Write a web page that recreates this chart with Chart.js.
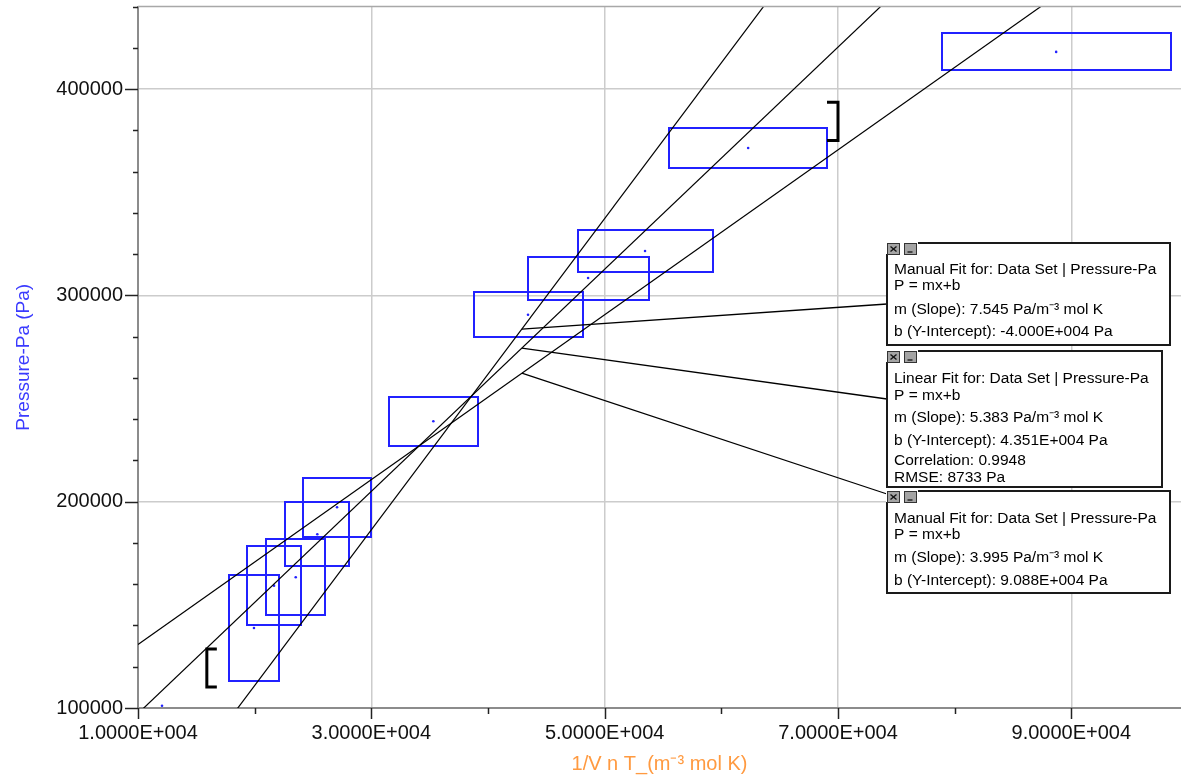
<!DOCTYPE html>
<html>
<head>
<meta charset="utf-8">
<script src="https://cdn.jsdelivr.net/npm/chart.js@4.4.1/dist/chart.umd.min.js"></script>
<style>
    html, body { margin: 0; padding: 0; background: #fff; }
    #chart_pressure { display: block; }
</style>
</head>
<body>
<canvas id="chart_pressure" width="1181" height="779"></canvas>
<script>
// data set: 1/V n T (m^-3 mol K) against pressure (Pa), with the error boxes
var invVnT      = [12060, 19940, 21660, 23520, 25370, 27060, 35315, 43430, 48580, 53460, 62300, 88700];
var pressure    = [101100, 138800, 159300, 163350, 184200, 197300, 239000, 290600, 308400, 321500, 371450, 418000];
var invVnTErr   = [0, 2113, 2327, 2516, 2730, 2915, 3786, 4672, 5186, 5787, 6772, 9815];
var pressureErr = [0, 25520, 19000, 18320, 15510, 14300, 11960, 10800, 10420, 10080, 9700, 8970];

// the three fits (m, b) as printed in the boxes
var fitSlopes     = [7.545, 5.383, 3.995];
var fitIntercepts = [-40000, 43510, 90880];
var fitAnchorX    = [42900, 42900, 42900];

// selection brackets
var bracketX     = [15900, 70000];
var bracketYLow  = [110200, 375000];
var bracketYHigh = [128600, 393600];

// axis ticks that carry a label
var xTickValues = [10000, 30000, 50000, 70000, 90000];
var xTickLabels = ['1.0000E+004', '3.0000E+004', '5.0000E+004', '7.0000E+004', '9.0000E+004'];
var yTickValues = [100000, 200000, 300000, 400000];
var yTickLabels = ['100000', '200000', '300000', '400000'];

var xMin = 10000, xMax = 99400, yMin = 100000, yMax = 440000;
var xStep = 10000, yStep = 20000;

var notes = [
    { left: 887, top: 243, w: 283, h: 102, end: 304,
      lines: ['Manual Fit for: Data Set | Pressure-Pa', 'P = mx+b', 'm (Slope): 7.545 Pa/m\u207B\u00B3 mol K', 'b (Y-Intercept): -4.000E+004 Pa'],
      base: [31, 47, 71, 93] },
    { left: 887, top: 351, w: 275, h: 136, end: 399,
      lines: ['Linear Fit for: Data Set | Pressure-Pa', 'P = mx+b', 'm (Slope): 5.383 Pa/m\u207B\u00B3 mol K', 'b (Y-Intercept): 4.351E+004 Pa', 'Correlation: 0.9948', 'RMSE: 8733 Pa'],
      base: [32, 49, 71, 94, 114, 131] },
    { left: 887, top: 491, w: 283, h: 102, end: 494,
      lines: ['Manual Fit for: Data Set | Pressure-Pa', 'P = mx+b', 'm (Slope): 3.995 Pa/m\u207B\u00B3 mol K', 'b (Y-Intercept): 9.088E+004 Pa'],
      base: [32, 48, 71, 94] }
];

var blue = '#2121ff';
var fontFamily = "'Liberation Sans', Arial, sans-serif";

function line(ctx, x1, y1, x2, y2) {
    ctx.beginPath();
    ctx.moveTo(x1, y1);
    ctx.lineTo(x2, y2);
    ctx.stroke();
}

function stepTicks(from, to, step) {
    var out = [];
    for (var v = from; v <= to; v += step) out.push({ value: v });
    return out;
}

var extras = {
    id: 'extras',
    beforeDatasetsDraw: function(chart) {
        var ctx = chart.ctx, xs = chart.scales.x, ys = chart.scales.y, a = chart.chartArea;
        ctx.save();
        ctx.beginPath();
        ctx.rect(a.left, a.top, a.right - a.left, a.bottom - a.top);
        ctx.clip();
        ctx.strokeStyle = blue;
        ctx.lineWidth = 2;
        invVnT.forEach(function(x, i) {
            if (!invVnTErr[i]) return;
            var l = Math.round(xs.getPixelForValue(x - invVnTErr[i]));
            var r = Math.round(xs.getPixelForValue(x + invVnTErr[i]));
            var t = Math.round(ys.getPixelForValue(pressure[i] + pressureErr[i]));
            var b = Math.round(ys.getPixelForValue(pressure[i] - pressureErr[i]));
            ctx.strokeRect(l, t, r - l, b - t);
        });
        ctx.restore();
    },
    afterDatasetsDraw: function(chart) {
        var ctx = chart.ctx, xs = chart.scales.x, ys = chart.scales.y;
        ctx.save();
        // brackets
        ctx.strokeStyle = '#000';
        ctx.lineWidth = 3;
        bracketX.forEach(function(bx, i) {
            var px = xs.getPixelForValue(bx);
            var t = ys.getPixelForValue(bracketYHigh[i]), b = ys.getPixelForValue(bracketYLow[i]);
            var arm = i === 0 ? 10 : -11;
            ctx.beginPath();
            ctx.moveTo(px + arm, t);
            ctx.lineTo(px, t);
            ctx.lineTo(px, b);
            ctx.lineTo(px + arm, b);
            ctx.stroke();
        });

        // connectors from fit lines to boxes
        ctx.lineWidth = 1.3;
        notes.forEach(function(n, i) {
            var ax = xs.getPixelForValue(fitAnchorX[i]);
            var ay = ys.getPixelForValue(fitSlopes[i] * fitAnchorX[i] + fitIntercepts[i]);
            line(ctx, ax, ay, n.left, n.end);
        });

        // fit boxes
        notes.forEach(function(n) {
            ctx.fillStyle = '#fff';
            ctx.fillRect(n.left, n.top, n.w, n.h);
            ctx.strokeStyle = '#1a1a1a';
            ctx.lineWidth = 2;
            ctx.strokeRect(n.left, n.top, n.w, n.h);
            ctx.fillStyle = '#fff';
            ctx.fillRect(n.left - 1, n.top - 2, 32, 13);
            // close + minimise buttons
            [0, 17].forEach(function(dx, k) {
                var bx = n.left + dx + 0.5, by = n.top + 0.5;
                ctx.fillStyle = '#a4a4a4';
                ctx.fillRect(bx, by, 12, 11);
                ctx.strokeStyle = '#333';
                ctx.lineWidth = 1;
                ctx.strokeRect(bx, by, 12, 11);
                ctx.strokeStyle = '#111';
                ctx.lineWidth = 1.3;
                if (k === 0) {
                    line(ctx, bx + 3, by + 3, bx + 9, by + 8);
                    line(ctx, bx + 9, by + 3, bx + 3, by + 8);
                } else {
                    line(ctx, bx + 3, by + 8.5, bx + 8, by + 8.5);
                }
            });
            ctx.fillStyle = '#000';
            ctx.font = '15.5px ' + fontFamily;
            ctx.textAlign = 'left';
            ctx.textBaseline = 'alphabetic';
            n.lines.forEach(function(txt, j) {
                ctx.fillText(txt, n.left + 7, n.top + n.base[j]);
            });
        });
        ctx.restore();
    },
    afterDraw: function(chart) {
        var ctx = chart.ctx, xs = chart.scales.x, ys = chart.scales.y, a = chart.chartArea;
        ctx.save();
        ctx.strokeStyle = '#a8a8a8';
        ctx.lineWidth = 1.5;
        line(ctx, a.left, a.top, a.right, a.top);
        ctx.strokeStyle = '#222';
        ctx.lineWidth = 1.5;
        xs.ticks.forEach(function(t) {
            var px = Math.round(xs.getPixelForValue(t.value)) + 0.5;
            var len = xTickValues.indexOf(t.value) >= 0 ? 11 : 6;
            line(ctx, px, a.bottom, px, a.bottom + len);
        });
        ys.ticks.forEach(function(t) {
            var py = Math.round(ys.getPixelForValue(t.value)) + 0.5;
            var len = yTickValues.indexOf(t.value) >= 0 ? 13 : 5;
            line(ctx, a.left - len, py, a.left, py);
        });
        ctx.restore();
    }
};

var fitDatasets = fitSlopes.map(function(m, i) {
    return {
        type: 'line',
        data: [
            { x: xMin, y: m * xMin + fitIntercepts[i] },
            { x: xMax, y: m * xMax + fitIntercepts[i] }
        ],
        borderColor: '#000',
        borderWidth: 1.2,
        pointRadius: 0,
        fill: false,
        tension: 0
    };
});

var ctx = document.getElementById('chart_pressure');
var chartPressure = new Chart(ctx, {
    type: 'scatter',
    data: {
        datasets: fitDatasets.concat([{
            data: invVnT.map(function(x, i) { return { x: x, y: pressure[i] }; }),
            pointRadius: 1.3,
            pointBorderWidth: 0,
            pointBackgroundColor: blue,
            borderColor: blue
        }])
    },
    plugins: [extras],
    options: {
        responsive: false,
        animation: false,
        layout: { autoPadding: false, padding: { top: 6.5, right: 0, left: 0, bottom: 0 } },
        plugins: {
            legend: { display: false },
            tooltip: { enabled: false }
        },
        scales: {
            x: {
                type: 'linear',
                min: xMin,
                max: xMax,
                border: { color: '#8c8c8c', width: 2 },
                grid: {
                    drawTicks: false,
                    lineWidth: 1.5,
                    color: function(c) {
                        if (!c.tick || c.tick.value === xMin) return 'rgba(0,0,0,0)';
                        return xTickValues.indexOf(c.tick.value) >= 0 ? '#cccccc' : 'rgba(0,0,0,0)';
                    }
                },
                afterBuildTicks: function(scale) {
                    scale.ticks = stepTicks(xMin, 90000, xStep);
                },
                ticks: {
                    autoSkip: false,
                    maxRotation: 0,
                    padding: 13,
                    color: '#111',
                    font: { family: fontFamily, size: 20 },
                    callback: function(value) {
                        var k = xTickValues.indexOf(value);
                        return k >= 0 ? xTickLabels[k] : '';
                    }
                },
                title: {
                    display: true,
                    text: '1/V n T_(m\u207B\u00B3 mol K)',
                    color: '#ff9a40',
                    font: { family: fontFamily, size: 20 },
                    padding: { top: 0, bottom: 3 }
                },
                afterFit: function(scale) {
                    scale.height = 71;
                    scale.paddingLeft = 0;
                    scale.paddingRight = 0;
                }
            },
            y: {
                type: 'linear',
                min: yMin,
                max: yMax,
                border: { color: '#8c8c8c', width: 2 },
                grid: {
                    drawTicks: false,
                    lineWidth: 1.5,
                    color: function(c) {
                        if (!c.tick || c.tick.value === yMin) return 'rgba(0,0,0,0)';
                        return yTickValues.indexOf(c.tick.value) >= 0 ? '#cccccc' : 'rgba(0,0,0,0)';
                    }
                },
                afterBuildTicks: function(scale) {
                    scale.ticks = stepTicks(yMin, yMax, yStep);
                },
                ticks: {
                    autoSkip: false,
                    padding: 15,
                    color: '#111',
                    font: { family: fontFamily, size: 20 },
                    callback: function(value) {
                        var k = yTickValues.indexOf(value);
                        return k >= 0 ? yTickLabels[k] : '';
                    }
                },
                title: {
                    display: true,
                    text: 'Pressure-Pa (Pa)',
                    color: '#3a3aff',
                    font: { family: fontFamily, size: 19 },
                    padding: { top: 12, bottom: 0 }
                },
                afterFit: function(scale) {
                    scale.width = 138;
                    scale.paddingTop = 0;
                    scale.paddingBottom = 0;
                }
            }
        }
    }
});
</script>
</body>
</html>
